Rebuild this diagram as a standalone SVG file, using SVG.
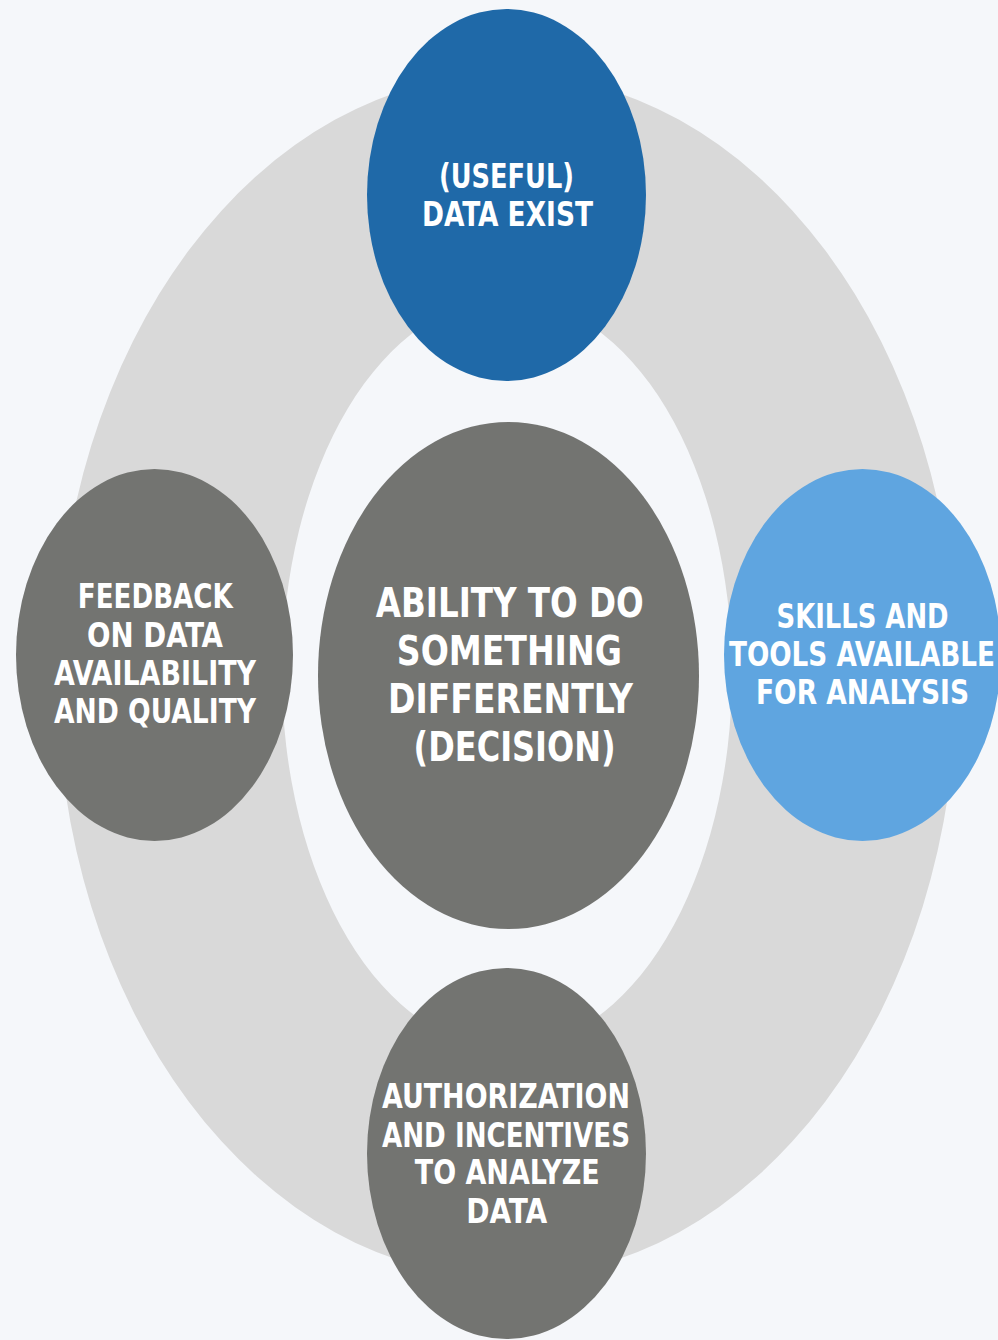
<svg xmlns="http://www.w3.org/2000/svg" width="998" height="1340" viewBox="0 0 998 1340">
<style>
.t{font-family:"DejaVu Sans Condensed","DejaVu Sans","Liberation Sans",sans-serif;font-stretch:condensed;font-weight:bold;fill:#ffffff;text-anchor:middle}
.s{font-size:34px}
.b{font-size:41px}
.grey{fill:#737471}
</style>
<rect x="0" y="0" width="998" height="1340" fill="#f5f7fa"/>
<g id="ring">
<path fill="#d9d9d9" fill-rule="evenodd" d="M57,676 A450,602 0 1,0 957,676 A450,602 0 1,0 57,676 Z M282,673.5 A225,375 0 1,0 732,673.5 A225,375 0 1,0 282,673.5 Z"/>
</g>
<g id="connectors"></g>
<g id="center">
<ellipse class="grey" cx="508.5" cy="675.5" rx="190.5" ry="253.5"/>
<text class="t b" x="509.8" y="616.7" textLength="268" lengthAdjust="spacingAndGlyphs">ABILITY TO DO</text>
<text class="t b" x="509.3" y="665" textLength="225" lengthAdjust="spacingAndGlyphs">SOMETHING</text>
<text class="t b" x="510.5" y="712.7" textLength="245" lengthAdjust="spacingAndGlyphs">DIFFERENTLY</text>
<text class="t b" x="514.6" y="760.7" textLength="202" lengthAdjust="spacingAndGlyphs">(DECISION)</text>
</g>
<g id="top">
<ellipse fill="#1f69a8" cx="506.5" cy="195" rx="139.5" ry="186"/>
<text class="t s" x="506.5" y="188" textLength="135" lengthAdjust="spacingAndGlyphs">(USEFUL)</text>
<text class="t s" x="507.5" y="226" textLength="171" lengthAdjust="spacingAndGlyphs">DATA EXIST</text>
</g>
<g id="left">
<ellipse class="grey" cx="154.5" cy="655" rx="138.5" ry="186"/>
<text class="t s" x="155.3" y="608.3" textLength="155" lengthAdjust="spacingAndGlyphs">FEEDBACK</text>
<text class="t s" x="155" y="646.7" textLength="136" lengthAdjust="spacingAndGlyphs">ON DATA</text>
<text class="t s" x="155" y="685" textLength="202" lengthAdjust="spacingAndGlyphs">AVAILABILITY</text>
<text class="t s" x="155" y="723.3" textLength="202" lengthAdjust="spacingAndGlyphs">AND QUALITY</text>
</g>
<g id="right">
<ellipse fill="#5fa5e0" cx="862.5" cy="655" rx="138.5" ry="186"/>
<text class="t s" x="862.5" y="627.7" textLength="172" lengthAdjust="spacingAndGlyphs">SKILLS AND</text>
<text class="t s" x="862" y="666" textLength="266" lengthAdjust="spacingAndGlyphs">TOOLS AVAILABLE</text>
<text class="t s" x="862.5" y="704.3" textLength="213" lengthAdjust="spacingAndGlyphs">FOR ANALYSIS</text>
</g>
<g id="bottom">
<ellipse class="grey" cx="506.5" cy="1153.5" rx="139.5" ry="185.5"/>
<text class="t s" x="506" y="1108.3" textLength="248" lengthAdjust="spacingAndGlyphs">AUTHORIZATION</text>
<text class="t s" x="506" y="1146.7" textLength="248" lengthAdjust="spacingAndGlyphs">AND INCENTIVES</text>
<text class="t s" x="507.3" y="1184.3" textLength="185" lengthAdjust="spacingAndGlyphs">TO ANALYZE</text>
<text class="t s" x="506.7" y="1222.7" textLength="81" lengthAdjust="spacingAndGlyphs">DATA</text>
</g>
</svg>
